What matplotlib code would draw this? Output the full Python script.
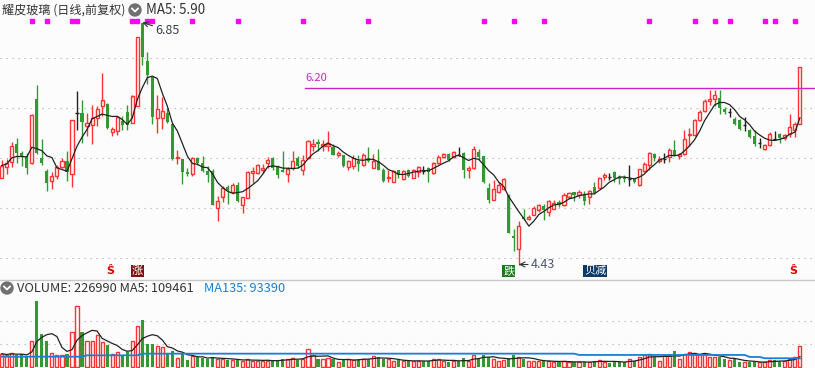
#!/usr/bin/env python3
# kline_chart.py - daily candlestick + volume panel, Tongdaxin style

import numpy as np
import pandas as pd
import matplotlib
matplotlib.use('Agg')
import matplotlib.pyplot as plt
from matplotlib.patches import Ellipse
from matplotlib.lines import Line2D
from matplotlib.transforms import blended_transform_factory

plt.rcParams['font.family'] = ['Noto Sans CJK SC', 'DejaVu Sans']

# daily prices, oldest first
opens = [5.30, 5.41, 5.46, 5.64, 5.55, 5.51, 5.45, 6.09, 5.50, 5.37,
         5.27, 5.32, 5.41, 5.47, 5.34, 5.95, 5.95, 5.82, 5.83, 5.90,
         6.02, 6.04, 5.76, 5.77, 5.87, 5.96, 5.85, 6.02, 6.85, 6.47,
         6.31, 5.90, 5.90, 5.95, 5.84, 5.50, 5.49, 5.36, 5.34, 5.50,
         5.45, 5.37, 5.37, 5.00, 5.11, 5.21, 5.16, 5.23, 5.03, 5.10,
         5.35, 5.35, 5.38, 5.45, 5.50, 5.41, 5.38, 5.34, 5.40, 5.50,
         5.38, 5.50, 5.62, 5.66, 5.62, 5.62, 5.61, 5.53, 5.53, 5.41,
         5.42, 5.47, 5.43, 5.50, 5.40, 5.47, 5.38, 5.30, 5.26, 5.38,
         5.29, 5.38, 5.30, 5.36, 5.37, 5.40, 5.35, 5.45, 5.51, 5.54,
         5.51, 5.53, 5.55, 5.38, 5.40, 5.56, 5.52, 5.20, 5.08, 5.16,
         5.19, 5.13, 4.72, 4.59, 4.91, 4.89, 4.93, 4.98, 5.02, 4.96,
         4.99, 5.06, 5.03, 5.11, 5.16, 5.13, 5.14, 5.11, 5.21, 5.20,
         5.31, 5.31, 5.36, 5.31, 5.31, 5.29, 5.29, 5.23, 5.37, 5.43,
         5.54, 5.47, 5.49, 5.51, 5.58, 5.52, 5.54, 5.73, 5.73, 5.88,
         5.97, 6.07, 6.09, 6.10, 5.99, 5.96, 5.89, 5.88, 5.83, 5.78,
         5.72, 5.65, 5.59, 5.63, 5.69, 5.74, 5.70, 5.74, 5.78, 5.84]
highs = [5.48, 5.49, 5.66, 5.70, 5.57, 5.55, 5.94, 6.23, 5.69, 5.39,
         5.36, 5.43, 5.50, 5.57, 5.88, 6.17, 6.08, 5.95, 6.03, 6.02,
         6.35, 6.05, 5.81, 5.92, 5.92, 6.03, 6.13, 6.71, 6.85, 6.56,
         6.31, 6.13, 6.11, 6.00, 5.84, 5.58, 5.49, 5.40, 5.51, 5.51,
         5.52, 5.42, 5.39, 5.11, 5.22, 5.23, 5.25, 5.26, 5.11, 5.37,
         5.41, 5.44, 5.44, 5.51, 5.51, 5.43, 5.57, 5.41, 5.57, 5.52,
         5.53, 5.68, 5.69, 5.69, 5.68, 5.77, 5.64, 5.57, 5.53, 5.48,
         5.53, 5.53, 5.55, 5.61, 5.54, 5.59, 5.40, 5.38, 5.38, 5.38,
         5.38, 5.39, 5.39, 5.42, 5.42, 5.41, 5.46, 5.53, 5.55, 5.55,
         5.57, 5.61, 5.56, 5.42, 5.62, 5.59, 5.52, 5.25, 5.28, 5.26,
         5.30, 5.14, 4.79, 4.87, 4.99, 4.93, 5.02, 5.04, 5.04, 5.08,
         5.08, 5.08, 5.15, 5.16, 5.16, 5.18, 5.17, 5.18, 5.26, 5.31,
         5.35, 5.35, 5.37, 5.33, 5.33, 5.43, 5.30, 5.39, 5.46, 5.56,
         5.55, 5.52, 5.55, 5.60, 5.68, 5.55, 5.78, 5.80, 5.89, 5.98,
         6.09, 6.18, 6.18, 6.18, 6.01, 6.00, 5.91, 5.89, 5.91, 5.79,
         5.78, 5.70, 5.64, 5.76, 5.77, 5.75, 5.74, 5.94, 5.86, 6.41]
lows = [5.30, 5.34, 5.41, 5.45, 5.42, 5.34, 5.44, 5.54, 5.43, 5.17,
        5.19, 5.29, 5.40, 5.27, 5.21, 5.78, 5.65, 5.72, 5.64, 5.82,
        5.92, 5.79, 5.72, 5.73, 5.78, 5.78, 5.85, 6.02, 6.43, 6.24,
        5.84, 5.75, 5.79, 5.85, 5.48, 5.44, 5.24, 5.32, 5.32, 5.43,
        5.36, 5.26, 5.03, 4.87, 5.06, 5.04, 5.14, 5.06, 4.94, 5.10,
        5.25, 5.34, 5.35, 5.40, 5.38, 5.30, 5.36, 5.26, 5.38, 5.40,
        5.33, 5.49, 5.57, 5.57, 5.57, 5.57, 5.53, 5.51, 5.41, 5.38,
        5.39, 5.37, 5.42, 5.46, 5.40, 5.38, 5.26, 5.26, 5.26, 5.30,
        5.28, 5.31, 5.30, 5.31, 5.34, 5.26, 5.34, 5.44, 5.50, 5.47,
        5.50, 5.52, 5.30, 5.30, 5.39, 5.48, 5.25, 5.05, 5.08, 5.15,
        5.18, 4.75, 4.57, 4.43, 4.88, 4.88, 4.93, 4.96, 4.88, 4.92,
        4.98, 5.01, 5.02, 5.10, 5.07, 5.10, 5.03, 5.04, 5.14, 5.20,
        5.28, 5.28, 5.26, 5.24, 5.26, 5.22, 5.25, 5.22, 5.36, 5.38,
        5.47, 5.45, 5.45, 5.46, 5.52, 5.49, 5.53, 5.62, 5.72, 5.87,
        5.96, 6.03, 6.02, 5.94, 5.94, 5.91, 5.83, 5.78, 5.77, 5.70,
        5.62, 5.60, 5.58, 5.62, 5.68, 5.65, 5.68, 5.71, 5.71, 5.84]
closes = [5.42, 5.45, 5.62, 5.55, 5.51, 5.40, 5.93, 5.55, 5.45, 5.25,
          5.32, 5.41, 5.47, 5.36, 5.88, 5.95, 5.86, 5.85, 5.90, 5.99,
          6.07, 5.80, 5.79, 5.91, 5.83, 5.83, 6.11, 6.71, 6.51, 6.33,
          5.91, 5.99, 5.97, 5.86, 5.49, 5.51, 5.36, 5.34, 5.50, 5.45,
          5.37, 5.33, 5.03, 5.07, 5.20, 5.18, 5.23, 5.07, 5.11, 5.36,
          5.37, 5.43, 5.40, 5.48, 5.40, 5.33, 5.36, 5.39, 5.47, 5.42,
          5.48, 5.67, 5.64, 5.64, 5.64, 5.64, 5.53, 5.55, 5.42, 5.47,
          5.50, 5.44, 5.53, 5.47, 5.47, 5.38, 5.27, 5.31, 5.37, 5.33,
          5.37, 5.32, 5.38, 5.41, 5.37, 5.36, 5.44, 5.51, 5.54, 5.48,
          5.56, 5.53, 5.38, 5.40, 5.59, 5.51, 5.26, 5.08, 5.19, 5.23,
          5.29, 4.75, 4.70, 4.82, 4.89, 4.91, 5.00, 5.03, 4.98, 5.07,
          5.05, 5.03, 5.13, 5.15, 5.13, 5.16, 5.07, 5.17, 5.15, 5.30,
          5.33, 5.31, 5.30, 5.29, 5.29, 5.29, 5.26, 5.39, 5.44, 5.55,
          5.50, 5.49, 5.49, 5.58, 5.53, 5.54, 5.69, 5.74, 5.88, 5.96,
          6.07, 6.09, 6.13, 6.00, 5.96, 5.96, 5.84, 5.79, 5.83, 5.71,
          5.64, 5.65, 5.63, 5.74, 5.69, 5.70, 5.73, 5.81, 5.84, 6.41]
volumes = [145000, 127000, 156000, 130000, 141000, 105000, 286000, 721000, 362000, 286000,
           156000, 130000, 130000, 145000, 384000, 667000, 384000, 279000, 279000, 344000,
           272000, 243000, 145000, 167000, 130000, 167000, 286000, 449000, 514000, 254000,
           254000, 225000, 217000, 156000, 178000, 98000, 156000, 80000, 116000, 105000,
           98000, 87000, 105000, 91000, 91000, 80000, 72000, 80000, 62000, 91000,
           69000, 69000, 69000, 69000, 69000, 69000, 91000, 91000, 101000, 72000,
           91000, 199000, 130000, 91000, 83000, 101000, 83000, 58000, 76000, 91000,
           72000, 91000, 91000, 83000, 120000, 109000, 83000, 83000, 62000, 76000,
           65000, 62000, 65000, 69000, 65000, 65000, 91000, 91000, 62000, 51000,
           65000, 65000, 101000, 69000, 130000, 91000, 134000, 112000, 91000, 65000,
           72000, 101000, 134000, 112000, 83000, 65000, 65000, 65000, 65000, 65000,
           51000, 54000, 69000, 51000, 54000, 51000, 54000, 51000, 69000, 76000,
           58000, 47000, 54000, 54000, 54000, 91000, 69000, 109000, 127000, 145000,
           109000, 69000, 127000, 127000, 178000, 91000, 145000, 167000, 156000, 127000,
           145000, 105000, 112000, 109000, 83000, 72000, 91000, 58000, 51000, 54000,
           54000, 54000, 54000, 72000, 72000, 69000, 62000, 91000, 112000, 226990]
# long volume average as shown (history starts before the window)
vol_ma135 = ([112000] * 17 + [127000] * 11 + [145000] * 87 +
             [131000] * 34 + [109000] * 3 + [95000] * 7 + [93390])

signal_days = [6, 9, 14, 15, 26, 27, 29, 30, 38, 47, 60, 73, 96, 102, 108,
               129, 138, 142, 145, 152, 154, 158]
hline_price = 6.20

title = '耀皮玻璃 (日线,前复权)'
price_info = 'MA5: 5.90'
vol_info = 'VOLUME: 226990 MA5: 109461'
vol_ma_info = 'MA135: 93390'

UP = '#ff3333'
DOWN = '#339933'
BG = '#fcfcfc'
GRID = '#b8b8b8'
W, H = 815, 368


def fig_xy(px, py):
    return px / W, 1 - py / H


def draw_icon(fig, px, py):
    fig.add_artist(Ellipse(fig_xy(px, py), 12 / W, 12 / H, color='#707070'))
    xs = [(px - 3) / W, px / W, (px + 3) / W]
    ys = [1 - (py - 1.5) / H, 1 - (py + 1.5) / H, 1 - (py - 1.5) / H]
    fig.add_artist(Line2D(xs, ys, color='white', lw=1.3))


def main():
    x = np.arange(len(closes))
    o, h, l, c = (np.array(a) for a in (opens, highs, lows, closes))
    v = np.array(volumes)
    up = c > o
    down = c < o
    flat = ~(up | down)
    prev = np.r_[c[0], c[:-1]]
    vup = up | (flat & (c >= prev))
    bw = 0.62

    fig = plt.figure(figsize=(W / 100, H / 100), dpi=100)
    fig.patch.set_facecolor(BG)
    ax = fig.add_axes([0, 89 / H, 1, 279 / H])
    axv = fig.add_axes([0, 0, 1, 88 / H])
    for a in (ax, axv):
        a.set_axis_off()
        a.set_xlim(-0.34, 162.0)
    ax.set_ylim(4.285, 7.075)
    axv.set_ylim(-10870, 945700)

    dots = (0, (1.2, 4.2))
    for g in [4.5, 5.0, 5.5, 6.0, 6.5]:
        ax.axhline(g, color=GRID, lw=0.8, ls=dots, zorder=0)
    for g in [250000, 500000]:
        axv.axhline(g, color=GRID, lw=0.8, ls=dots, zorder=0)

    # candles
    ax.vlines(x[down], l[down], h[down], color=DOWN, lw=1)
    ax.bar(x[down], (o - c)[down], bottom=c[down], width=bw, color=DOWN, lw=0)
    ax.vlines(x[up], c[up], h[up], color=UP, lw=1)
    ax.vlines(x[up], l[up], o[up], color=UP, lw=1)
    ax.bar(x[up], (c - o)[up], bottom=o[up], width=bw,
           facecolor=BG, edgecolor=UP, lw=1)
    ax.vlines(x[flat], l[flat], h[flat], color='#222222', lw=1)
    ax.hlines(c[flat], x[flat] - bw / 2, x[flat] + bw / 2, color='#222222', lw=1)

    ma5 = pd.Series(c).rolling(5, min_periods=1).mean()
    ax.plot(x, ma5, color='#222222', lw=0.9)

    ax.plot([60.4, 162], [hline_price] * 2, color='#cc22cc', lw=1)
    ax.text(60.4, hline_price + 0.045, f'{hline_price:.2f}', color='#cc22cc',
            fontsize=8, ha='left', va='bottom')

    ax.annotate('6.85', xy=(28, max(highs)), xytext=(13, -8),
                textcoords='offset pixels', fontsize=9, color='#3a3f4a',
                ha='left', va='center',
                arrowprops=dict(arrowstyle='->', color='#333333', lw=0.8,
                                shrinkA=0, shrinkB=0))
    ax.annotate('4.43', xy=(103, min(lows)), xytext=(12, 0),
                textcoords='offset pixels', fontsize=9, color='#4a5570',
                ha='left', va='center',
                arrowprops=dict(arrowstyle='->', color='#333333', lw=0.8,
                                shrinkA=0, shrinkB=0))

    blend = blended_transform_factory(ax.transData, ax.transAxes)
    ax.plot(signal_days, [1 - 21 / 279] * len(signal_days), 's',
            color='#ff00ff', ms=2.2, transform=blend, clip_on=False)

    ybot = 1 - 271 / 279
    for xi in [21.6, 157.6]:
        ax.text(xi, ybot, 'Ŝ', transform=blend, color='#e00000', fontsize=8,
                fontweight='bold', ha='center', va='center', family='DejaVu Sans')
    for xi, label, fc in [(27, '涨', '#7a1414'), (101, '跌', '#1a7a1a'),
                          (118.2, '贝减', '#0d3a66')]:
        ax.text(xi, ybot, label, transform=blend, color='white', fontsize=8,
                ha='center', va='center',
                bbox=dict(boxstyle='square,pad=0.08', fc=fc, ec='none'))

    # volume
    axv.bar(x[~vup], v[~vup], width=bw, color=DOWN, lw=0)
    axv.bar(x[vup], v[vup], width=bw, facecolor=BG, edgecolor=UP, lw=1)
    vma5 = pd.Series(v).rolling(5, min_periods=1).mean()
    axv.plot(x, vma5, color='#222222', lw=0.9)
    axv.plot(x, vol_ma135, color='#1a7fd4', lw=1.3)

    fig.add_artist(Line2D([0, 1], [1 - 279.5 / H] * 2, color='#c8c8c8', lw=1))

    fig.text(*fig_xy(2, 10), title, fontsize=8.7, color='#333333', va='center')
    draw_icon(fig, 135, 10)
    fig.text(*fig_xy(146, 10), price_info, fontsize=9.6, color='#333333', va='center')
    draw_icon(fig, 7, 288)
    fig.text(*fig_xy(17, 288), vol_info, fontsize=9.2, color='#333333', va='center')
    fig.text(*fig_xy(204, 288), vol_ma_info, fontsize=9.2, color='#1a7fd4', va='center')

    fig.savefig('out.png', dpi=100, facecolor=BG)


if __name__ == '__main__':
    main()
